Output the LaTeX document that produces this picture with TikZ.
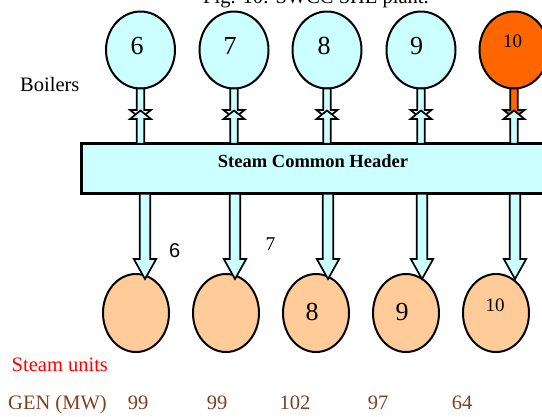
\documentclass[tikz,border=0pt]{standalone}
\usepackage{fontspec}
\setmainfont{Liberation Serif}
\newfontfamily\sansdigits{Liberation Sans}
\usepackage{tikz}
\usetikzlibrary{calc,shapes.geometric,positioning}

\definecolor{steamcyan}{HTML}{CCFFFF}
\definecolor{hotorange}{HTML}{FF6600}
\definecolor{unitpeach}{HTML}{FFCC99}
\definecolor{genbrown}{RGB}{128,64,32}

% block arrow: from, to, fill, shaft half width, head half width, head length
\newcommand{\fatarrow}[6]{%
  \coordinate (fa-hb) at ($(#2)!#6!(#1)$);
  \draw[fatline, fill=#3]
    ($(#1)!#4!90:(#2)$) -- ($(fa-hb)!#4!90:(#2)$) -- ($(fa-hb)!#5!90:(#2)$)
    -- (#2) -- ($(fa-hb)!#5!-90:(#2)$) -- ($(fa-hb)!#4!-90:(#2)$)
    -- ($(#1)!#4!-90:(#2)$) -- cycle;}

\begin{document}
\begin{tikzpicture}[x=1pt, y=-1pt,
  boiler/.style={ellipse, draw, line width=2pt, minimum width=69pt, minimum height=77pt, inner sep=0pt, outer sep=0pt},
  unit/.style={ellipse, draw, line width=2pt, minimum width=66pt, minimum height=78pt, inner sep=0pt, outer sep=0pt, fill=unitpeach},
  header/.style={draw, line width=3pt, fill=steamcyan, minimum width=463.7pt, minimum height=50pt, inner sep=0pt, outer sep=0pt},
  fatline/.style={draw, line width=1.7pt, line join=miter},
  bignum/.style={font=\fontsize{26}{26}\selectfont, inner sep=0pt, anchor=base},
  smallnum/.style={font=\fontsize{19}{19}\selectfont, inner sep=0pt, anchor=base},
  rowtext/.style={font=\fontsize{20.5}{20.5}\selectfont, inner sep=0pt}]

  \useasboundingbox (0,0) rectangle (542,416);
  \clip (0,0) rectangle (542,416);

  % title, cut by the page edge
  \node[rowtext, anchor=base] (title) at (316,3.5) {Fig. 10: SWCC SHE plant.};
  \node[rowtext, anchor=base west] (boilers) at (20,91.5) {Boilers};

  % boilers, header and steam units
  \foreach \n/\bx/\ux/\col in {6/140.5/136/steamcyan, 7/234/226/steamcyan, 8/327/316/steamcyan,
                               9/421/406/steamcyan, 10/514/496/hotorange} {
    \node[boiler, fill=\col] (b\n) at (\bx,50) {};
    \node[unit] (s\n) at (\ux,313) {};
  }
  \node[header] (header) at (313.2,168.8) {};
  \node[font=\bfseries\fontsize{18.5}{18.5}\selectfont, inner sep=0pt, anchor=base] (hdr) at (313,167.3) {Steam Common Header};

  % boiler to header
  \foreach \n/\col in {6/steamcyan, 7/steamcyan, 8/steamcyan, 9/steamcyan, 10/hotorange} {
    \coordinate (dn\n) at ($(b\n.south)+(0,30)$);
    \coordinate (hu\n) at (header.north -| b\n);
    \coordinate (up\n) at ($(b\n.south)+(0,22)$);
    \fatarrow{b\n.south}{dn\n}{\col}{3.8pt}{10.5pt}{8.5pt}
    \fatarrow{hu\n}{up\n}{steamcyan}{3.8pt}{10.5pt}{8.5pt}
  }

  % header to steam units
  \foreach \n/\lx in {6/145, 7/235, 8/328, 9/422, 10/515} {
    \coordinate (tip\n) at (\lx,279);
    \coordinate (hd\n) at (header.south -| tip\n);
    \fatarrow{hd\n}{tip\n}{steamcyan}{5.3pt}{11.2pt}{20pt}
  }

  % numbers
  \node[bignum] (n6) at (137,54.3) {6};
  \node[bignum] (n7) at (230,54.3) {7};
  \node[bignum] (n8) at (324,54.3) {8};
  \node[bignum] (n9) at (416.7,54.3) {9};
  \node[smallnum] (n10) at (512.7,47.7) {10};
  \node[bignum] (m8) at (312,320) {8};
  \node[bignum] (m9) at (402,320) {9};
  \node[smallnum] (m10) at (495,311.7) {10};
  \node[font=\sansdigits\fontsize{20}{20}\selectfont, inner sep=0pt, anchor=base] (k6) at (174.7,257.3) {6};
  \node[font=\fontsize{19.5}{19.5}\selectfont, inner sep=0pt, anchor=base] (k7) at (270.5,250) {7};

  % bottom rows
  \node[rowtext, text=red, anchor=base west] (units) at (11.5,371.5) {Steam units};
  \node[rowtext, text=genbrown, anchor=base west] (gen) at (8,409) {GEN (MW)};
  \foreach \v/\gx in {99/138, 99/217, 102/295, 97/378, 64/462}
    \node[rowtext, text=genbrown, anchor=base] (g\gx) at (\gx,409) {\v};
\end{tikzpicture}
\end{document}
